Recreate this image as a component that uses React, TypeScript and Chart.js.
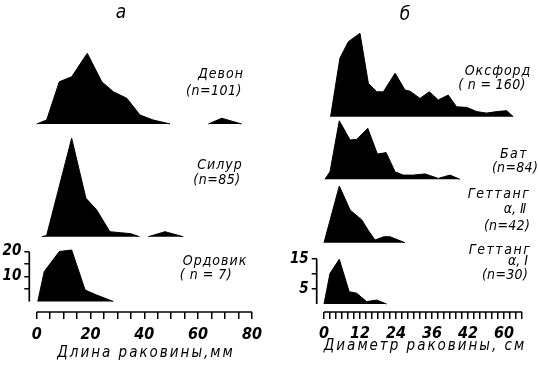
import React, { useEffect, useRef } from 'react';
import { Chart, registerables } from 'chart.js';

Chart.register(...registerables);

// ---------- Panel а : shell length, mm (frequency, %) ----------
const devonX = [0, 3.7, 8.4, 13, 18.8, 24.2, 28.5, 33.5, 38.4, 43.3, 49.6];
const devonY = [0, 1.6, 16.9, 18.9, 28.3, 16.9, 12.9, 10.3, 3.6, 1.6, 0];
const devonTailX = [63.8, 68.8, 76.2];
const devonTailY = [0, 2.3, 0];

const silurX = [1.9, 3.7, 13, 18.3, 22.3, 27.2, 35, 38.2];
const silurY = [0, 0.5, 39.4, 15.4, 10.7, 2, 1.2, 0];
const silurTailX = [41.5, 47.7, 54.5];
const silurTailY = [0, 2, 0];

const ordovikX = [0.4, 2.8, 8.4, 13, 18, 22.3, 28.5];
const ordovikY = [0, 12, 20, 20.6, 4.6, 2.6, 0];

const leftXTicks = [0, 5, 10, 15, 20, 25, 30, 35, 40, 45, 50, 55, 60, 65, 70, 75, 80];
const leftXLabeled = [0, 20, 40, 60, 80];
const leftYTicks = [5, 10, 15, 20];
const leftYLabeled = [10, 20];

// ---------- Panel б : shell diameter, cm (frequency, %) ----------
const oxfordX = [2.2, 5.3, 8.1, 12, 14.8, 17.6, 19.8, 23.7, 27, 28.7, 32, 35.1, 38.1, 41.4, 44.2, 47.6, 50.9, 54.2, 57.6, 60.9, 63.1];
const oxfordY = [0, 19.5, 25, 27.8, 11.1, 8.3, 8.3, 14.5, 8.9, 8.5, 6.1, 8.3, 5.6, 7.2, 3.3, 3.1, 1.7, 1.2, 1.7, 2, 0];

const batX = [0.3, 2, 5.1, 8.7, 10.9, 14.6, 17.8, 20.7, 23.7, 26.4, 29.8, 33.7, 38.1, 42, 45.3];
const batY = [0, 2.5, 19.5, 13.1, 13.3, 17, 8.4, 8.9, 2.5, 1.4, 1.4, 1.8, 0.3, 1.4, 0];

const hett2X = [0, 5.1, 8.7, 12.6, 14.7, 17, 20, 22, 27];
const hett2Y = [0, 18.9, 10.9, 7.6, 4.2, 0.9, 2, 2, 0];

const hett1X = [0, 2, 5.1, 8.4, 10.9, 14.2, 17.6, 20.9];
const hett1Y = [0, 10.2, 14.9, 4.1, 3.6, 0.8, 1.3, 0];

const rightXTicks = [0, 2, 4, 6, 8, 10, 12, 14, 16, 18, 20, 22, 24, 26, 28, 30, 32, 34, 36, 38, 40, 42, 44, 46, 48, 50, 52, 54, 56, 58, 60, 62, 64, 66];
const rightXLabelValues = [0, 12, 24, 36, 48, 60];
const rightXLabelTexts = ['0', '12', '24', '36', '42', '60'];
const rightYTicks = [5, 10, 15];
const rightYLabeled = [5, 15];

// ---------- styling ----------
const LABEL_FAMILY = '"DejaVu Sans Condensed", "DejaVu Sans", sans-serif';
const TICK_FAMILY = '"DejaVu Sans Condensed", "DejaVu Sans", sans-serif';
const CANVAS_H = 367;
const AREA_TOP = 30;
const AREA_BOTTOM = 312;

const zip = (xs: number[], ys: number[]) => xs.map((x, i) => ({ x, y: ys[i] }));

function yRange(zeroPx: number, pxPerUnit: number) {
  const min = -(AREA_BOTTOM - zeroPx) / pxPerUnit;
  return { min, max: min + (AREA_BOTTOM - AREA_TOP) / pxPerUnit };
}

const textPlugin = {
  id: 'figText',
  afterDraw(chart: any, _args: any, opts: any) {
    const ctx = chart.ctx as CanvasRenderingContext2D;
    ctx.save();
    ctx.fillStyle = '#000';
    ctx.textAlign = 'center';
    ctx.textBaseline = 'middle';
    for (const t of opts.items || []) {
      ctx.font = `italic ${t.weight || 'normal'} ${t.size}px ${LABEL_FAMILY}`;
      (ctx as any).letterSpacing = `${t.spacing || 0}px`;
      ctx.fillText(t.text, t.x, t.y);
    }
    ctx.restore();
  },
};

const axisLinePlugin = {
  id: 'axisLines',
  afterDatasetsDraw(chart: any, _args: any, opts: any) {
    const { ctx, chartArea } = chart;
    const xs = chart.scales.x;
    const ys = chart.scales[opts.yId];
    ctx.save();
    ctx.strokeStyle = '#000';
    ctx.lineWidth = 1.7;
    ctx.beginPath();
    ctx.moveTo(xs.getPixelForValue(opts.xFrom), chartArea.bottom);
    ctx.lineTo(xs.getPixelForValue(opts.xTo), chartArea.bottom);
    ctx.moveTo(chartArea.left, ys.getPixelForValue(opts.yFrom));
    ctx.lineTo(chartArea.left, ys.getPixelForValue(opts.yTo));
    ctx.stroke();
    ctx.restore();
  },
};

function ds(label: string, pts: { x: number; y: number }[], yAxisID: string) {
  return {
    label,
    data: pts,
    yAxisID,
    borderColor: '#000',
    backgroundColor: '#000',
    borderWidth: 1,
    fill: 'origin',
    pointRadius: 0,
    tension: 0,
  };
}

const hiddenY = (zeroPx: number, k: number) => ({
  type: 'linear',
  display: false,
  position: 'left',
  ...yRange(zeroPx, k),
});

function tickFont() {
  return { family: TICK_FAMILY, size: 16, style: 'italic' as const, weight: 'bold' as const };
}

function leftConfig(): any {
  return {
    type: 'line',
    data: {
      datasets: [
        ds('Девон', zip(devonX, devonY), 'yDev'),
        ds('Девон', zip(devonTailX, devonTailY), 'yDev'),
        ds('Силур', zip(silurX, silurY), 'ySil'),
        ds('Силур', zip(silurTailX, silurTailY), 'ySil'),
        ds('Ордовик', zip(ordovikX, ordovikY), 'yOrd'),
      ],
    },
    options: {
      animation: false,
      responsive: false,
      devicePixelRatio: 1,
      layout: { padding: { top: AREA_TOP, right: 18.1, bottom: 0, left: 0 } },
      plugins: {
        legend: { display: false },
        tooltip: { enabled: false },
        axisLines: { yId: 'yOrd', xFrom: 0, xTo: 80, yFrom: 0, yTo: 20 },
        figText: {
          items: [
            { text: 'а', x: 121, y: 13, size: 19 },
            { text: 'Девон', x: 221, y: 74, size: 14, spacing: 1 },
            { text: '(n=101)', x: 214, y: 91, size: 14, spacing: 0.5 },
            { text: 'Силур', x: 220, y: 165, size: 14, spacing: 1 },
            { text: '(n=85)', x: 217, y: 180, size: 14, spacing: 0.5 },
            { text: 'Ордовик', x: 215, y: 261, size: 14, spacing: 1 },
            { text: '( n = 7)', x: 206, y: 275, size: 14, spacing: 0.5 },
            { text: 'Длина раковины,мм', x: 146, y: 353, size: 15, spacing: 2 },
          ],
        },
      },
      scales: {
        x: {
          type: 'linear',
          position: 'bottom',
          min: -2.75,
          max: 80,
          afterFit: (s: any) => { s.height = CANVAS_H - AREA_BOTTOM; },
          afterBuildTicks: (s: any) => { s.ticks = leftXTicks.map((v) => ({ value: v })); },
          ticks: {
            autoSkip: false,
            maxRotation: 0,
            padding: 6,
            color: '#000',
            font: tickFont(),
            callback: (v: number) => (leftXLabeled.includes(v) ? String(v) : ''),
          },
          grid: { drawOnChartArea: false, drawTicks: true, tickLength: 7, color: '#000', lineWidth: 1.5 },
          border: { display: false },
        },
        yDev: hiddenY(124, 2.5),
        ySil: hiddenY(236.7, 2.5),
        yOrd: {
          type: 'linear',
          position: 'left',
          ...yRange(301.5, 2.5),
          afterFit: (s: any) => { s.width = 29.3; },
          afterBuildTicks: (s: any) => { s.ticks = leftYTicks.map((v) => ({ value: v })); },
          ticks: {
            autoSkip: false,
            padding: 3,
            color: '#000',
            font: { ...tickFont(), size: 15 },
            callback: (v: number) => (leftYLabeled.includes(v) ? String(v) : ''),
          },
          grid: { drawOnChartArea: false, drawTicks: true, tickLength: 5, color: '#000', lineWidth: 1.5 },
          border: { display: false },
        },
      },
    },
    plugins: [textPlugin, axisLinePlugin],
  };
}

function rightConfig(): any {
  return {
    type: 'line',
    data: {
      datasets: [
        ds('Оксфорд', zip(oxfordX, oxfordY), 'yOx'),
        ds('Бат', zip(batX, batY), 'yBat'),
        ds('Геттанг α, II', zip(hett2X, hett2Y), 'yG2'),
        ds('Геттанг α, I', zip(hett1X, hett1Y), 'yG1'),
      ],
    },
    options: {
      animation: false,
      responsive: false,
      devicePixelRatio: 1,
      layout: { padding: { top: AREA_TOP, right: 16, bottom: 0, left: 0 } },
      plugins: {
        legend: { display: false },
        tooltip: { enabled: false },
        axisLines: { yId: 'yG1', xFrom: 0, xTo: 66, yFrom: 0, yTo: 15 },
        figText: {
          items: [
            { text: 'б', x: 135, y: 15, size: 19 },
            { text: 'Оксфорд', x: 228, y: 71, size: 14, spacing: 1 },
            { text: '( n = 160)', x: 222, y: 85, size: 14, spacing: 0.3 },
            { text: 'Бат', x: 244, y: 154, size: 14, spacing: 1.5 },
            { text: '(n=84)', x: 245, y: 168, size: 14, spacing: 0.3 },
            { text: 'Геттанг', x: 229, y: 194, size: 14, spacing: 1.5 },
            { text: 'α, Ⅱ', x: 245, y: 209, size: 14 },
            { text: '(n=42)', x: 237, y: 226, size: 14, spacing: 0.3 },
            { text: 'Геттанг', x: 230, y: 250, size: 14, spacing: 1.5 },
            { text: 'α, Ⅰ', x: 248, y: 261, size: 14 },
            { text: '(n=30)', x: 235, y: 275, size: 14, spacing: 0.3 },
            { text: 'Диаметр раковины, см', x: 155, y: 346, size: 15, spacing: 2 },
          ],
        },
      },
      scales: {
        x: {
          type: 'linear',
          position: 'bottom',
          min: -2.43,
          max: 66,
          afterFit: (s: any) => { s.height = CANVAS_H - AREA_BOTTOM; },
          afterBuildTicks: (s: any) => { s.ticks = rightXTicks.map((v) => ({ value: v })); },
          ticks: {
            autoSkip: false,
            maxRotation: 0,
            padding: 5,
            color: '#000',
            font: tickFont(),
            callback: (v: number) => {
              const i = rightXLabelValues.indexOf(v);
              return i >= 0 ? rightXLabelTexts[i] : '';
            },
          },
          grid: { drawOnChartArea: false, drawTicks: true, tickLength: 7, color: '#000', lineWidth: 1.5 },
          border: { display: false },
        },
        yOx: hiddenY(116.7, 3),
        yBat: hiddenY(179.3, 3),
        yG2: hiddenY(242.7, 3),
        yG1: {
          type: 'linear',
          position: 'left',
          ...yRange(304, 3),
          afterFit: (s: any) => { s.width = 46.7; },
          afterBuildTicks: (s: any) => { s.ticks = rightYTicks.map((v) => ({ value: v })); },
          ticks: {
            autoSkip: false,
            padding: 3,
            color: '#000',
            font: { ...tickFont(), size: 15 },
            callback: (v: number) => (rightYLabeled.includes(v) ? String(v) : ''),
          },
          grid: { drawOnChartArea: false, drawTicks: true, tickLength: 5, color: '#000', lineWidth: 1.5 },
          border: { display: false },
        },
      },
    },
    plugins: [textPlugin, axisLinePlugin],
  };
}

function Panel({ left, width, make }: { left: number; width: number; make: () => any }) {
  const ref = useRef<HTMLCanvasElement | null>(null);
  useEffect(() => {
    if (!ref.current) return;
    const chart = new Chart(ref.current, make());
    return () => chart.destroy();
  }, [make]);
  return (
    <canvas
      ref={ref}
      width={width}
      height={CANVAS_H}
      style={{ position: 'absolute', left, top: 0, width, height: CANVAS_H }}
    />
  );
}

export default function App() {
  return (
    <div style={{ position: 'absolute', left: 0, top: 0, width: 538, height: CANVAS_H, background: '#fff' }}>
      <Panel left={0} width={270} make={leftConfig} />
      <Panel left={270} width={268} make={rightConfig} />
    </div>
  );
}
